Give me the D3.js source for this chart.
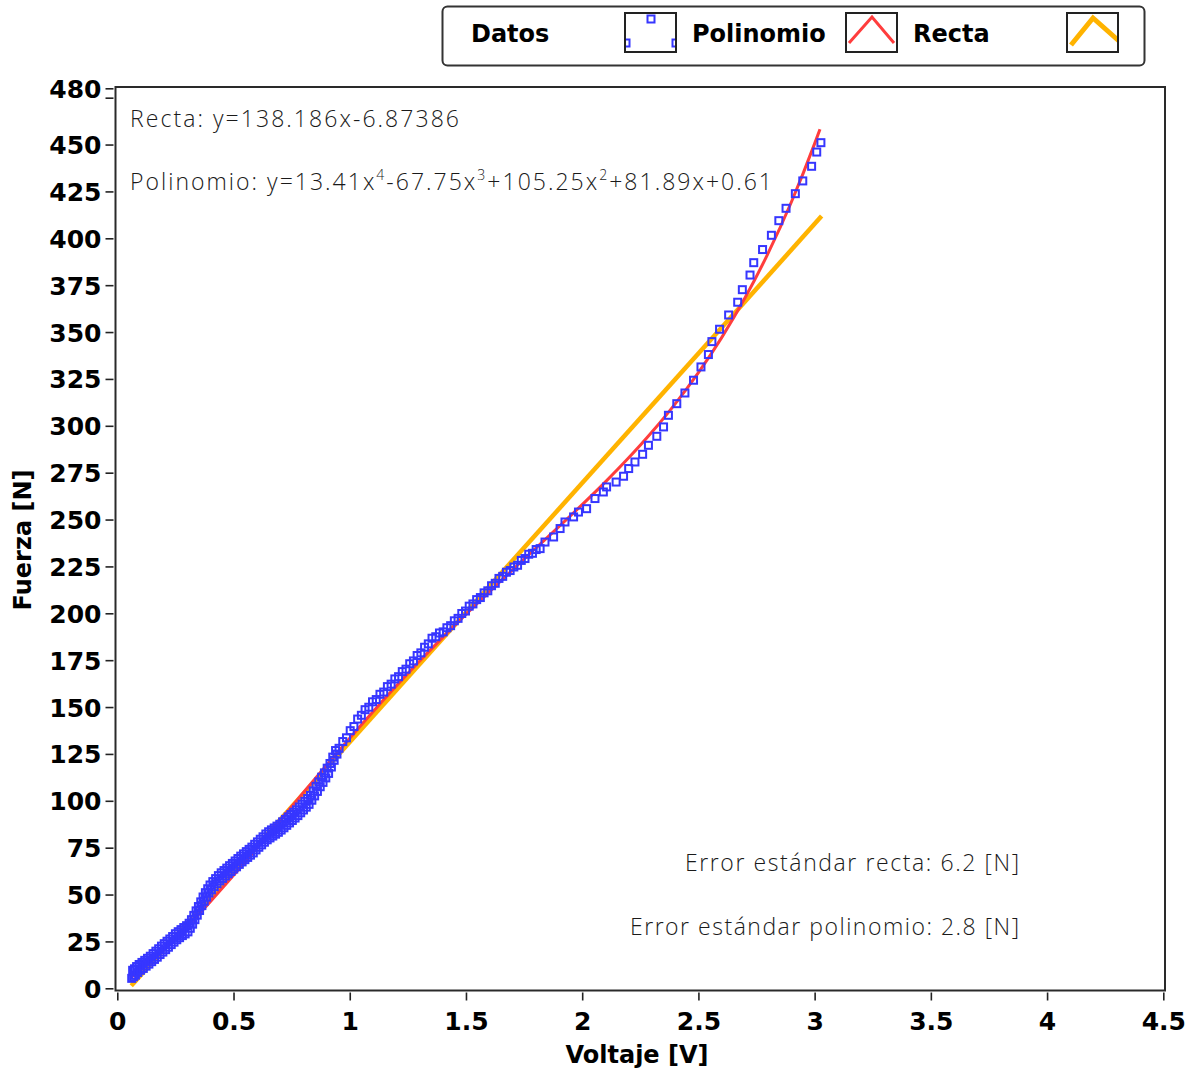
<!DOCTYPE html>
<html>
<head>
<meta charset="utf-8">
<script src="https://cdn.jsdelivr.net/npm/d3@7"></script>
<style>
  html, body { margin: 0; padding: 0; background: #fff; }
  svg { display: block; }
  .tick-label { font-family: "DejaVu Sans", Verdana, sans-serif; font-weight: bold; font-size: 25px; fill: #000; }
  .axis-title { font-family: "DejaVu Sans", Verdana, sans-serif; font-weight: bold; font-size: 24px; fill: #000; }
  .legend-label { font-family: "DejaVu Sans", Verdana, sans-serif; font-weight: bold; font-size: 24px; fill: #000; }
  .note { font-family: "Open Sans", "Noto Sans", sans-serif; font-weight: 300; font-size: 23px; fill: #1a1a1a; }
</style>
</head>
<body>
<script>
// Measured points: voltage [V] and force [N]
const voltaje = [
  0.062,0.066,0.070,0.074,0.078,0.083,0.088,0.094,0.100,0.106,0.112,0.118,0.124,0.130,0.136,0.142,0.148,0.154,0.160,0.166,
  0.172,0.178,0.184,0.190,0.196,0.202,0.208,0.214,0.220,0.226,0.232,0.238,0.244,0.250,0.256,0.262,0.268,0.274,0.280,0.286,
  0.292,0.298,0.304,0.309,0.314,0.319,0.324,0.329,0.334,0.339,0.344,0.349,0.354,0.359,0.364,0.369,0.374,0.379,0.384,0.389,
  0.394,0.399,0.405,0.411,0.417,0.423,0.429,0.435,0.441,0.447,0.453,0.459,0.465,0.471,0.477,0.483,0.489,0.495,0.501,0.507,
  0.513,0.519,0.525,0.531,0.537,0.543,0.549,0.555,0.561,0.567,0.573,0.579,0.585,0.591,0.597,0.603,0.609,0.615,0.621,0.627,
  0.633,0.639,0.645,0.651,0.657,0.663,0.669,0.675,0.681,0.687,0.693,0.699,0.705,0.711,0.717,0.723,0.729,0.735,0.741,0.747,
  0.753,0.759,0.765,0.771,0.777,0.783,0.789,0.795,0.801,0.807,0.813,0.819,0.825,0.831,0.837,0.843,0.849,0.855,0.861,0.867,
  0.873,0.879,0.885,0.891,0.897,0.903,0.909,0.915,0.921,0.927,0.933,0.939,0.945,
  0.954,0.970,0.986,1.002,1.018,1.034,1.050,1.066,1.082,1.098,1.114,1.130,1.146,1.162,1.178,1.194,1.210,1.226,1.242,1.258,
  1.274,1.290,1.306,1.322,1.338,1.354,1.370,1.386,1.402,1.418,1.434,1.450,1.466,1.482,1.498,1.514,1.530,1.546,1.562,1.578,
  1.594,1.610,1.626,1.642,1.658,1.674,1.690,1.706,1.722,1.738,1.754,1.770,1.786,1.802,
  1.819,1.840,1.877,1.905,1.926,1.963,1.984,2.019,2.055,2.091,2.105,2.146,2.178,2.200,2.227,2.260,2.285,2.321,2.350,2.371,
  2.407,2.442,2.479,2.511,2.543,2.558,2.591,2.630,2.669,2.689,2.722,2.738,2.776,2.814,2.846,2.877,2.917,2.949,2.987,3.009,3.027
];
const fuerza = [
  5.3,9.6,6.2,10.4,7.0,11.6,8.4,12.7,9.6,13.8,10.6,14.9,11.8,16.0,12.9,17.1,14.2,18.5,15.4,19.8,
  16.6,21.1,18.0,22.5,19.3,23.8,20.6,25.1,21.9,26.3,23.3,27.6,24.6,29.1,25.9,30.2,27.0,31.3,28.1,32.4,
  29.0,33.4,30.1,34.7,32.0,36.6,34.2,38.9,36.6,41.3,39.0,43.6,41.5,46.1,44.1,48.7,46.4,51.0,48.6,53.1,
  50.8,55.1,52.5,56.9,54.2,58.5,55.8,60.1,57.3,61.6,58.6,62.8,59.9,64.1,61.1,65.4,62.3,66.6,63.6,67.9,
  64.8,69.2,66.1,70.5,67.4,71.7,68.6,72.9,69.8,74.1,71.0,75.3,72.2,76.8,73.8,78.1,75.2,79.5,76.5,80.8,
  77.9,82.3,79.2,83.5,80.2,84.5,81.2,85.5,82.2,86.5,83.2,87.5,84.4,88.8,85.6,90.1,86.9,91.4,88.2,92.7,
  89.5,93.9,90.8,95.2,92.1,96.7,93.6,98.2,95.1,99.7,96.6,101.2,98.1,102.9,100.3,105.3,102.6,107.7,105.0,110.1,
  107.5,112.6,109.8,114.9,112.2,117.4,114.6,119.9,118.0,123.3,121.6,126.8,124.9,
  128.0,131.6,133.6,137.4,139.6,143.6,145.6,148.6,149.9,152.8,154.0,156.8,158.0,160.9,162.2,165.0,166.2,168.9,170.2,173.1,
  174.6,177.5,178.9,181.9,183.7,186.7,187.5,189.5,190.1,192.3,193.4,196.0,197.3,199.9,201.2,203.8,205.0,207.3,208.4,210.9,
  212.0,214.7,216.0,218.6,219.7,221.9,222.8,224.7,225.6,228.2,229.2,231.5,232.0,234.0,
  234.5,238.0,240.7,245.2,248.7,251.4,254.0,255.8,261.2,264.7,267.4,270.0,273.1,277.2,280.7,284.8,289.6,294.4,299.4,305.6,
  311.8,317.5,324.3,331.4,338.0,344.9,351.5,359.1,365.9,372.6,380.4,387.0,394.0,401.6,409.4,416.0,423.8,430.6,438.4,446.0,451.0
];

// Fitted polynomial y=13.41x^4-67.75x^3+105.25x^2+81.89x+0.61, sampled
const polinomioX = [0.06,0.1,0.2,0.3,0.4,0.5,0.6,0.7,0.8,0.9,1.0,1.1,1.2,1.3,1.4,1.5,1.6,1.7,1.8,1.9,2.0,2.1,2.2,2.3,2.4,2.5,2.6,2.7,2.8,2.9,3.0,3.023];
const polinomioY = [5.89,9.79,20.68,32.93,46.21,60.24,74.74,89.49,104.29,118.97,133.41,147.50,161.17,174.39,187.16,199.49,211.45,223.14,234.68,246.22,257.95,270.10,282.91,296.68,311.72,328.38,347.05,368.12,392.07,419.35,450.49,458.20];

// Fitted line y=138.186x-6.87386, end points
const rectaX = [0.06, 3.03];
const rectaY = [1.42, 411.83];

const xTicks = [0, 0.5, 1, 1.5, 2, 2.5, 3, 3.5, 4, 4.5];
const yTicks = [0,25,50,75,100,125,150,175,200,225,250,275,300,325,350,375,400,425,450,475,480];
const yTicksHidden = [475];

const leyenda = ["Datos", "Polinomio", "Recta"];
const textoRecta = "Recta: y=138.186x-6.87386";
const errorRecta = "Error estándar recta: 6.2 [N]";
const errorPolinomio = "Error estándar polinomio: 2.8 [N]";

const W = 1193, H = 1076;
const frame = { left: 115.5, top: 87, right: 1165, bottom: 990.5 };

const colDatos = "#3636ff";
const colPoli = "#ff3d3d";
const colRecta = "#ffb300";

const svg = d3.select("body").append("svg").attr("width", W).attr("height", H);

const x = d3.scaleLinear().domain([0, 4.5]).range([117.3, 1163.3]);
const y = d3.scaleLinear().domain([0, 480]).range([988.3, 88.3]);

// clip for plot area
svg.append("clipPath").attr("id", "plotclip")
  .append("rect").attr("x", frame.left).attr("y", frame.top)
  .attr("width", frame.right - frame.left).attr("height", frame.bottom - frame.top);

// axes
const yAxis = d3.axisLeft(y).tickValues(yTicks).tickSize(8).tickPadding(4)
  .tickFormat(d => yTicksHidden.includes(d) ? "" : d3.format("d")(d));
const gy = svg.append("g").attr("transform", `translate(${frame.left - 2},0)`).call(yAxis);
gy.select(".domain").remove();
gy.selectAll(".tick line").attr("stroke", "#222").attr("stroke-width", 1.6);
gy.selectAll(".tick text").attr("class", "tick-label").attr("x", -12).attr("dy", "0.36em");

const xAxis = d3.axisBottom(x).tickValues(xTicks).tickSize(8).tickPadding(4)
  .tickFormat(d => d3.format("")(d));
const gx = svg.append("g").attr("transform", `translate(0,${frame.bottom + 2})`).call(xAxis);
gx.select(".domain").remove();
gx.selectAll(".tick line").attr("stroke", "#222").attr("stroke-width", 1.6);
gx.selectAll(".tick text").attr("class", "tick-label").attr("y", 37).attr("dy", 0);

// plot frame
svg.append("rect")
  .attr("x", frame.left).attr("y", frame.top)
  .attr("width", frame.right - frame.left).attr("height", frame.bottom - frame.top)
  .attr("fill", "none").attr("stroke", "#2a2a2a").attr("stroke-width", 2);

// axis titles
svg.append("text").attr("class", "axis-title")
  .attr("transform", "translate(31,540) rotate(-90)")
  .attr("text-anchor", "middle").text("Fuerza [N]");
svg.append("text").attr("class", "axis-title")
  .attr("x", 637).attr("y", 1063).attr("text-anchor", "middle").text("Voltaje [V]");

const plot = svg.append("g").attr("clip-path", "url(#plotclip)");

// fitted line
const lineGen = d3.line().x(d => x(d[0])).y(d => y(d[1]));
plot.append("path")
  .datum(d3.zip(rectaX, rectaY))
  .attr("d", lineGen)
  .attr("fill", "none").attr("stroke", colRecta).attr("stroke-width", 4.5);

// fitted polynomial
plot.append("path")
  .datum(d3.zip(polinomioX, polinomioY))
  .attr("d", lineGen.curve(d3.curveMonotoneX))
  .attr("fill", "none").attr("stroke", colPoli).attr("stroke-width", 3);

// measured points as open squares
const s = 7;
plot.append("g").selectAll("rect")
  .data(d3.zip(voltaje, fuerza))
  .join("rect")
  .attr("x", d => x(d[0]) - s / 2).attr("y", d => y(d[1]) - s / 2)
  .attr("width", s).attr("height", s)
  .attr("fill", "none").attr("stroke", colDatos).attr("stroke-width", 2);

// equations
svg.append("text").attr("class", "note")
  .attr("x", 130).attr("y", 127)
  .attr("textLength", 329)
  .text(textoRecta);

const poly = svg.append("text").attr("class", "note")
  .attr("x", 130).attr("y", 190).attr("textLength", 642);
const polyParts = [
  ["Polinomio: y=13.41x", false], ["4", true], ["-67.75x", false], ["3", true],
  ["+105.25x", false], ["2", true], ["+81.89x+0.61", false]
];
polyParts.forEach(([t, sup], i) => {
  const prevSup = i > 0 && polyParts[i - 1][1];
  poly.append("tspan")
    .attr("dy", sup ? -10 : (prevSup ? 10 : 0))
    .style("font-size", sup ? "14px" : null)
    .text(t);
});

svg.append("text").attr("class", "note")
  .attr("x", 1019).attr("y", 871).attr("text-anchor", "end")
  .attr("textLength", 334).text(errorRecta);
svg.append("text").attr("class", "note")
  .attr("x", 1019).attr("y", 935).attr("text-anchor", "end")
  .attr("textLength", 389).text(errorPolinomio);

// legend
const lg = svg.append("g");
lg.append("rect").attr("x", 442.5).attr("y", 6.5).attr("width", 702).attr("height", 59)
  .attr("rx", 5).attr("fill", "#fff").attr("stroke", "#333").attr("stroke-width", 2);

const legendTextX = [471, 692, 913];
const legendBoxX = [625, 846, 1067];
leyenda.forEach((name, i) => {
  lg.append("text").attr("class", "legend-label")
    .attr("x", legendTextX[i]).attr("y", 42).text(name);
  const bx = legendBoxX[i], by = 13, bw = 51, bh = 39;
  lg.append("clipPath").attr("id", "lgclip" + i)
    .append("rect").attr("x", bx + 1).attr("y", by + 1).attr("width", bw - 2).attr("height", bh - 2);
  const icon = lg.append("g").attr("clip-path", `url(#lgclip${i})`);
  if (i === 0) {
    [[bx + 26, by + 6], [bx + 1, by + 30], [bx + 51, by + 30]].forEach(([cx, cy]) => {
      icon.append("rect").attr("x", cx - s / 2).attr("y", cy - s / 2)
        .attr("width", s).attr("height", s)
        .attr("fill", "none").attr("stroke", colDatos).attr("stroke-width", 2);
    });
  } else if (i === 1) {
    icon.append("path")
      .attr("d", `M${bx + 3},${by + 30} L${bx + 26},${by + 4} L${bx + 48},${by + 30}`)
      .attr("fill", "none").attr("stroke", colPoli).attr("stroke-width", 3);
  } else {
    icon.append("path")
      .attr("d", `M${bx + 4},${by + 32} L${bx + 26},${by + 5} L${bx + 52},${by + 28}`)
      .attr("fill", "none").attr("stroke", colRecta).attr("stroke-width", 5);
  }
  lg.append("rect").attr("x", bx).attr("y", by).attr("width", bw).attr("height", bh)
    .attr("fill", "none").attr("stroke", "#222").attr("stroke-width", 2);
});
</script>
</body>
</html>
